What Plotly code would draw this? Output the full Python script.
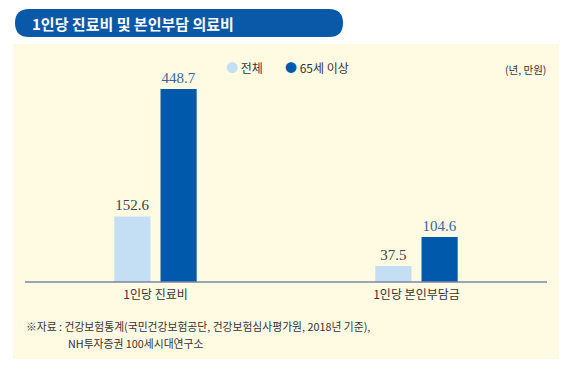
import plotly.graph_objects as go

categories = ["1인당 진료비", "1인당 본인부담금"]
series_names = ["전체", "65세 이상"]
total_values = [152.6, 37.5]
senior_values = [448.7, 104.6]

W, H = 571, 368
LIGHT = "#c4def3"
DARK = "#0059ab"
CREAM = "#fffbe3"
KFONT = "Noto Sans CJK KR"

def px(x):
    return x / W

def py(y):
    return 1 - y / H

fig = go.Figure()
fig.add_trace(go.Bar(
    x=categories, y=total_values, name=series_names[0],
    marker=dict(color=LIGHT, line=dict(width=0)),
    text=[f"{v:.1f}" for v in total_values], textposition="outside",
    textfont=dict(family="Liberation Serif", size=15, color="#444444"),
    cliponaxis=False, showlegend=False,
))
fig.add_trace(go.Bar(
    x=categories, y=senior_values, name=series_names[1],
    marker=dict(color=DARK, line=dict(width=0)),
    text=[f"{v:.1f}" for v in senior_values], textposition="outside",
    textfont=dict(family="Liberation Serif", size=15, color="#3d64a0"),
    cliponaxis=False, showlegend=False,
))

# rounded pill title background (pixel -> paper)
x0, x1, y0, y1, r = 15, 343, 9, 37, 14
path = (f"M {px(x0 + r)},{py(y0)} L {px(x1 - r)},{py(y0)} "
        f"Q {px(x1)},{py(y0)} {px(x1)},{py(y0 + r)} "
        f"Q {px(x1)},{py(y1)} {px(x1 - r)},{py(y1)} "
        f"L {px(x0 + r)},{py(y1)} "
        f"Q {px(x0)},{py(y1)} {px(x0)},{py(y1 - r)} "
        f"Q {px(x0)},{py(y0)} {px(x0 + r)},{py(y0)} Z")

shapes = [
    dict(type="rect", xref="paper", yref="paper", layer="below",
         x0=px(13), x1=px(559), y0=py(359), y1=py(44),
         fillcolor=CREAM, line=dict(width=0)),
    dict(type="path", xref="paper", yref="paper", layer="below",
         path=path, fillcolor="#0a58a8", line=dict(width=0)),
    dict(type="line", xref="paper", yref="paper",
         x0=px(25), x1=px(547), y0=py(282), y1=py(282),
         line=dict(color="#7a86a6", width=1.5)),
]

annotations = [
    dict(text="<b>1인당 진료비 및 본인부담 의료비</b>", xref="paper", yref="paper",
         x=px(30), y=py(23), xanchor="left", yanchor="middle", showarrow=False,
         font=dict(family=KFONT, size=15, color="white")),
    dict(text=f"<span style='color:{LIGHT}'>●</span> {series_names[0]}",
         xref="paper", yref="paper", x=px(224), y=py(68), xanchor="left",
         yanchor="middle", showarrow=False,
         font=dict(family=KFONT, size=12, color="#333333")),
    dict(text=f"<span style='color:{DARK}'>●</span> {series_names[1]}",
         xref="paper", yref="paper", x=px(283), y=py(68), xanchor="left",
         yanchor="middle", showarrow=False,
         font=dict(family=KFONT, size=12, color="#333333")),
    dict(text="(년, 만원)", xref="paper", yref="paper", x=px(548), y=py(69),
         xanchor="right", yanchor="middle", showarrow=False,
         font=dict(family=KFONT, size=10.5, color="#333333")),
    dict(text="※자료 : 건강보험통계(국민건강보험공단, 건강보험심사평가원, 2018년 기준),",
         xref="paper", yref="paper", x=px(24), y=py(326), xanchor="left",
         yanchor="middle", showarrow=False,
         font=dict(family=KFONT, size=10.8, color="#333333")),
    dict(text="NH투자증권 100세시대연구소",
         xref="paper", yref="paper", x=px(66), y=py(343), xanchor="left",
         yanchor="middle", showarrow=False,
         font=dict(family=KFONT, size=10.8, color="#333333")),
]

fig.update_layout(
    width=W, height=H,
    margin=dict(l=0, r=0, t=0, b=0),
    paper_bgcolor="white", plot_bgcolor="rgba(0,0,0,0)",
    barmode="group", bargap=0.646, bargroupgap=0.217,
    shapes=shapes, annotations=annotations,
    xaxis=dict(domain=[px(25), px(547)], range=[-0.5, 1.5],
               showgrid=False, showline=False, zeroline=False, ticks="",
               ticklabelstandoff=4,
               tickfont=dict(family=KFONT, size=12, color="#333333")),
    yaxis=dict(domain=[py(282), 1], range=[0, 282 / 0.43],
               visible=False, showgrid=False, zeroline=False),
    showlegend=False,
)

fig.write_html("out.html",
               config={"displayModeBar": False},
               post_script="document.body.style.margin='0';document.body.style.padding='0';")
